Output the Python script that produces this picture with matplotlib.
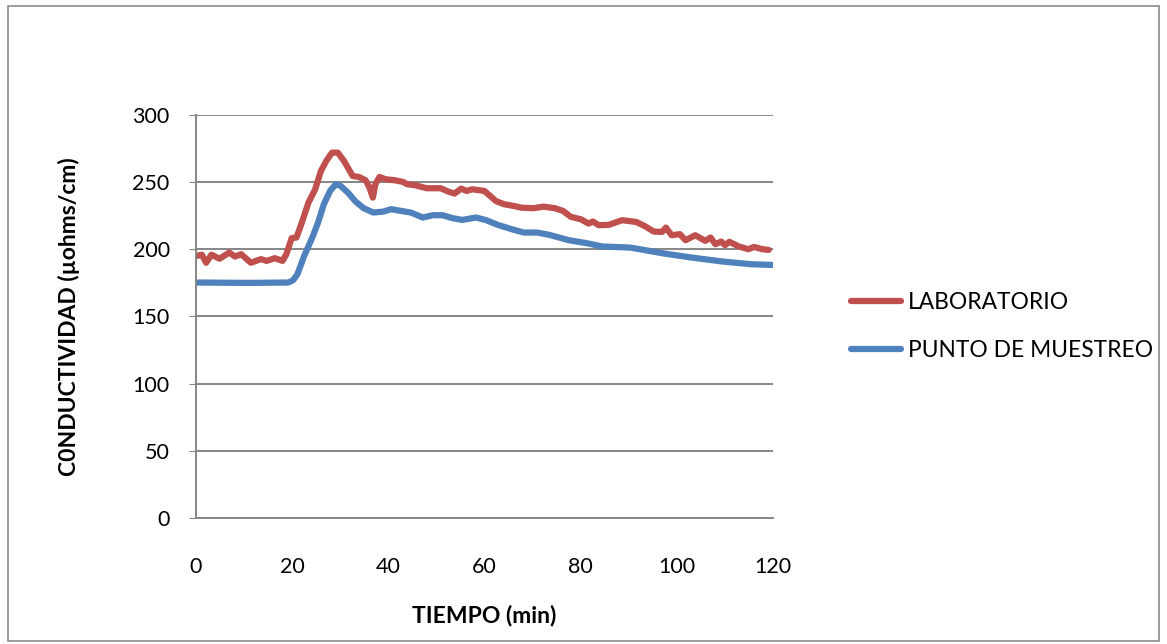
import matplotlib.pyplot as plt
from matplotlib.patches import Rectangle

# valores
t_lab = [0, 1.2, 2.1, 3.2, 4.9, 6.9, 8.1, 9.4, 11.4, 13.5, 14.7, 16.4, 18, 18.8,
         19.9, 20.9, 21.9, 23.4, 24.8, 26, 27.1, 28.3, 29.5, 30.8, 32.6, 33.9,
         35.3, 36.1, 36.8, 37.3, 38.2, 39.4, 41.4, 43.1, 43.9, 45.6, 48, 50.9,
         52.5, 53.8, 55.2, 56.3, 57.5, 60, 61.2, 62.4, 64.1, 66.1, 67.8, 70.2,
         72.3, 74.7, 76.4, 78, 80.1, 81.7, 82.6, 83.8, 85.9, 88.7, 91.6, 93.3,
         95.3, 97, 97.8, 99, 100.7, 101.9, 103.9, 106, 107.1, 108.1, 109.3,
         110.1, 111, 113, 115, 116.1, 117.9, 119.2]
lab = [195, 196, 190, 196, 193, 197.6, 194.6, 196.4, 190, 192.7, 191.4, 193.4,
       191.4, 196.4, 208.3, 208.8, 218.7, 234.8, 244.7, 258.4, 265.8, 272, 272,
       265.8, 254.6, 253.9, 251.4, 246, 238.5, 248.4, 253.9, 252.2, 251.4,
       250.2, 248.5, 247.7, 245.5, 245.5, 243, 241.5, 245.2, 243.5, 244.7,
       243.5, 239.8, 236, 233.6, 232.3, 231, 230.6, 231.8, 230.6, 228.6, 224.2,
       222.4, 219.2, 220.7, 218, 218.2, 221.7, 220.4, 217.5, 213.2, 213, 216.2,
       210.5, 211.3, 206.8, 210.5, 206.3, 208.8, 203.8, 205.8, 203.1, 205.6,
       202.1, 200.1, 201.8, 200.1, 199.6]

t_pm = [0, 11, 19.2, 20.2, 21.1, 22.5, 24.2, 25.4, 26.6, 27.9, 29.1, 30.1, 31.6,
        33.2, 34.9, 36.9, 39, 40.6, 42.7, 44.7, 47.2, 49.3, 51.3, 53.4, 55.4,
        58.3, 60.4, 62.8, 65.7, 68.2, 71, 73.5, 77.6, 81.3, 84.6, 90.4, 97.4,
        103.1, 109.7, 115.5, 120]
pm = [175.3, 175, 175.3, 177, 181.5, 195, 208.8, 220, 233.6, 243.5, 248.5,
      247.2, 242.3, 235.6, 230.6, 227.4, 228.1, 229.9, 228.6, 227.4, 223.7,
      225.4, 225.4, 223.2, 221.9, 223.7, 221.7, 218.2, 215, 212.5, 212.5,
      210.8, 206.8, 204.6, 202.1, 201.3, 196.9, 193.9, 190.9, 188.9, 188.4]

x_ticks = [0, 20, 40, 60, 80, 100, 120]
y_ticks = [0, 50, 100, 150, 200, 250, 300]

plt.rcParams['font.family'] = ['Lato', 'DejaVu Sans']

fig = plt.figure(figsize=(11.67, 6.44), dpi=100)
fig.patches.append(Rectangle((0.007, 0.005), 0.986, 0.985, transform=fig.transFigure,
                             fill=False, edgecolor='#8c8c8c', linewidth=1.2))

ax = fig.add_axes([0.168, 0.1957, 0.494, 0.6257])
ax.plot(t_lab, lab, color='#C0504D', linewidth=4.5, solid_capstyle='round',
        solid_joinstyle='round', label='LABORATORIO')
ax.plot(t_pm, pm, color='#4F81BD', linewidth=4.5, solid_capstyle='round',
        solid_joinstyle='round', label='PUNTO DE MUESTREO')

ax.set_xlim(0, 120)
ax.set_ylim(0, 300)
ax.set_xticks(x_ticks)
ax.set_yticks(y_ticks)
ax.grid(axis='y', color='#868686', linewidth=1.4)
ax.set_axisbelow(True)
for s in ['top', 'right']:
    ax.spines[s].set_visible(False)
for s in ['left', 'bottom']:
    ax.spines[s].set_color('#868686')
    ax.spines[s].set_linewidth(1.4)
ax.tick_params(axis='y', length=5, color='#868686', labelsize=15.5, pad=14)
ax.tick_params(axis='x', length=0, labelsize=15.5, pad=28)

ax.set_xlabel('TIEMPO (min)', fontsize=16.5, fontweight='bold', labelpad=20)
ax.set_ylabel('C0NDUCTIVIDAD (µohms/cm)', fontsize=16.5, fontweight='bold', labelpad=38)

ax.legend(loc='center left', bbox_to_anchor=(1.1, 0.475), frameon=False,
          fontsize=16.4, handlelength=2.2, handletextpad=0.3, labelspacing=1.2)

fig.savefig('out.png', dpi=100)
